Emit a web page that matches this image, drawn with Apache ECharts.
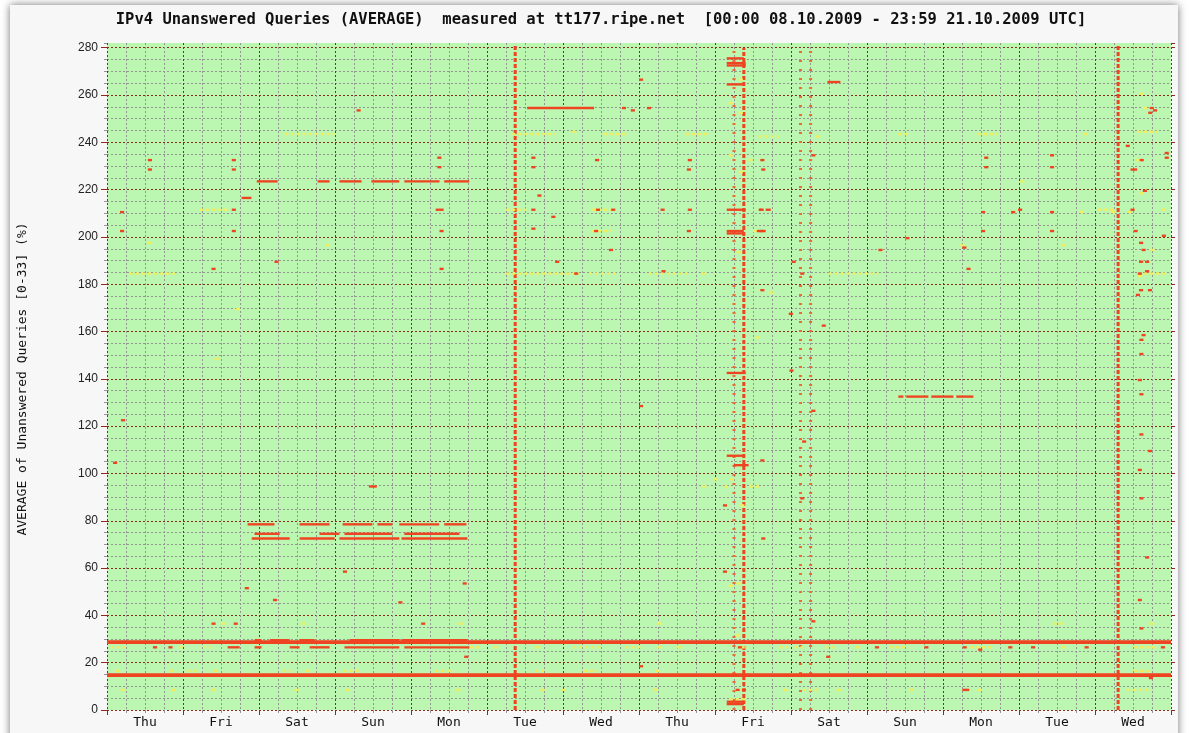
<!DOCTYPE html>
<html>
<head>
<meta charset="utf-8">
<title>IPv4 Unanswered Queries (AVERAGE) - tt177.ripe.net</title>
<script src="https://cdn.jsdelivr.net/npm/echarts@6/dist/echarts.min.js"></script>
<style>
  html, body { margin: 0; padding: 0; background: #ffffff; overflow: hidden; }
  #frame { position: absolute; left: 10px; top: 5px; width: 1168px; height: 760px;
           background: #f7f7f7; box-shadow: 0 0 8px rgba(0, 0, 0, 0.55); }
  #main { position: absolute; left: 0; top: 0; width: 1189px; height: 733px; }
</style>
</head>
<body>
<div id="frame"></div>
<div id="main"></div>
<script>
'use strict';

// time axis in hours from 00:00 08.10.2009, rows 0..280
const days = ['Thu', 'Fri', 'Sat', 'Sun', 'Mon', 'Tue', 'Wed', 'Thu', 'Fri', 'Sat', 'Sun', 'Mon', 'Tue', 'Wed'];
const hourMax = 336;
const rowMax = 282;
const rowTicks = [0, 20, 40, 60, 80, 100, 120, 140, 160, 180, 200, 220, 240, 260, 280];

// rows that never answer: [fromHour, toHour, row]
const deadRows = [[0, 336, 13.9], [0, 336, 27.9]];

// vertical outages over (almost) all rows: [hour, fromRow, toRow]
const denseColumns = [[128.9, 0, 281], [201.1, 0, 280], [319.3, 0, 281]];
const sparseColumns = [[198.0, 0, 280], [222.2, 0, 280], [219.0, 0, 279]];

// red runs: [fromHour, toHour, row]
const redRuns = [
	[46.6, 48.8, 29], [51.4, 57.7, 29], [60.8, 65.6, 29], [76.6, 92.3, 29], [93, 113.8, 29],
	[38.1, 41.9, 26], [46.6, 48.8, 26], [57.7, 60.8, 26], [64, 70.3, 26], [75, 92.3, 26], [93.9, 114.4, 26],
	[44.4, 52.9, 78], [60.8, 70.3, 78], [74.4, 83.8, 78], [85.4, 90.1, 78], [92.3, 104.9, 78], [106.5, 113.5, 78],
	[46.6, 54.5, 74], [67.1, 73.4, 74], [75, 90.1, 74], [93.9, 111.3, 74],
	[45.7, 57.7, 72], [60.8, 71.9, 72], [73.4, 92.3, 72], [93, 113.8, 72],
	[47.3, 53.9, 223], [66.5, 70.3, 223], [73.4, 80.4, 223], [83.5, 92.3, 223], [93.9, 105, 223], [106.5, 114.4, 223],
	[132.7, 153.8, 254],
	[195.7, 201.1, 275], [195.7, 201.7, 273], [195.7, 201.7, 272], [195.7, 201.4, 264],
	[195.7, 201.7, 211], [205.8, 206.7, 211], [208, 209.6, 211],
	[195.7, 201.1, 202], [195.7, 201.1, 201], [205.2, 208, 202],
	[195.7, 201.7, 142], [195.7, 201.1, 107], [197.9, 202.6, 103], [195.7, 201.1, 3], [195.7, 201.1, 2],
	[227.5, 231.6, 265], [42.5, 45.6, 216],
	[249.9, 251.5, 132], [252.4, 259.4, 132], [260.3, 267.3, 132], [268.2, 273.6, 132]
];

// light (yellow) runs: [fromHour, toHour, row]
const yellowRuns = [
	[56.1, 71.9, 243], [128, 141.8, 243], [157, 163.9, 243], [182.8, 190, 243], [205.8, 212.1, 242],
	[249.9, 253.1, 243], [275.1, 281.4, 243], [325.6, 331.9, 244],
	[7.2, 21.4, 184], [126.1, 149.1, 184], [152.2, 161.7, 184], [171.1, 183.7, 184], [227.9, 243.6, 184], [325.6, 335, 184],
	[29.3, 38.8, 211], [126.1, 132.4, 211], [153.2, 159.5, 211], [313, 317.7, 211], [153.2, 159.5, 202],
	[1.2, 6, 26], [23, 24.3, 26], [30.3, 33.7, 26], [114.6, 118.2, 26], [147.2, 155.8, 26], [163.7, 169.1, 26],
	[212.4, 214.8, 26], [217.1, 219.7, 26], [226.9, 230.5, 26], [247.3, 252.1, 26], [272.6, 279.9, 26], [324.3, 331.5, 26],
	[20, 21.9, 16], [25.4, 29, 16], [55.5, 58, 16], [74.7, 79.7, 16], [103.7, 109.7, 16], [135.2, 138.7, 16],
	[150.6, 154.6, 16], [324.3, 329.2, 16], [188, 190, 94], [195, 197, 94], [203, 206, 94],
	[219.7, 224.4, 8], [322, 330, 8], [299, 302.6, 36], [196.7, 201.6, 4]
];

// single red cells: [hour, row]
const redDots = [
	[4.4, 122], [1.9, 104], [4.1, 210], [4.1, 202], [12.9, 232], [12.9, 228], [39.4, 232], [39.4, 228],
	[39.4, 211], [39.4, 202], [52.9, 189], [78.8, 253], [104.3, 233], [104.3, 229], [105, 211], [103.8, 211],
	[105, 202], [105, 186], [92, 45], [168, 18], [168, 128], [134, 233], [134, 229], [134, 211], [134, 203],
	[162.6, 254], [170.5, 254], [225.7, 162], [243.6, 194], [252.1, 199], [270.1, 195], [271.4, 186],
	[276, 210], [276, 202], [277, 233], [277, 229], [297.8, 234], [297.8, 229], [297.8, 210], [297.8, 202],
	[285.5, 210], [287.7, 211], [327.1, 219], [327.8, 189], [328.7, 177], [327.8, 185], [328.7, 109],
	[327.8, 64], [329.3, 254], [330.3, 253], [333.1, 200], [270.1, 8], [271, 8], [275.1, 25], [33, 186],
	[326, 156], [326, 150], [325.5, 139], [326, 133], [326, 116], [325.5, 101], [326, 89], [325.5, 46],
	[326, 34], [328.8, 252], [334, 233], [334, 235], [323.2, 228], [324, 228], [323.2, 211], [324.2, 202],
	[325.9, 197], [326.7, 194], [325.9, 189], [325.5, 184], [325.9, 177], [324.9, 175], [326.7, 158],
	[321.7, 238], [326.1, 232], [222.4, 234], [206.3, 232], [206.6, 228], [206.3, 177], [215.3, 167],
	[218.9, 184], [215.5, 143], [216.2, 189], [222.4, 126], [222.4, 37], [206.3, 105], [194.5, 86],
	[194.5, 58], [227.1, 22], [206.6, 72], [218.9, 89], [219.5, 113], [135.9, 217], [165.4, 253],
	[168, 266], [154.1, 232], [183.4, 232], [183.1, 228], [154.4, 211], [159.2, 211], [174.8, 211],
	[183.4, 211], [153.8, 202], [183.1, 202], [206.1, 211], [206.1, 202], [140.3, 208], [158.5, 194],
	[175.1, 185], [141.5, 189], [147.5, 184], [33, 36], [99.2, 36], [112.3, 53], [112.8, 22], [43.5, 51],
	[52.4, 46], [74.5, 58], [40, 36], [83.9, 94], [82.7, 94], [199.2, 26], [242.5, 26], [258.1, 26],
	[270.2, 26], [284.6, 26], [291.8, 26], [308.7, 26], [332.8, 26], [19.4, 26], [14.5, 26], [329, 13],
	[198.5, 8], [200.5, 8]
];

// single yellow cells: [hour, row]
const yellowDots = [
	[12.6, 197], [34, 148], [40.7, 169], [69, 196], [146.9, 244], [269.5, 196], [276.7, 243], [288.4, 223],
	[301.6, 196], [326.1, 260], [327.1, 254], [308.2, 243], [325, 232], [326.1, 218], [307.2, 210],
	[317, 210], [322.3, 210], [333, 211], [329.5, 194], [326.1, 189], [325.6, 183], [199.5, 266],
	[196.3, 256], [199.5, 252], [202.6, 232], [223.7, 242], [196.3, 234], [199.5, 227], [204, 202],
	[198.8, 193], [187.9, 184], [209, 176], [204.8, 157], [191.6, 97], [196.8, 97], [200, 86], [198.8, 53],
	[196.3, 52], [198.5, 31], [200.1, 26], [200.1, 8], [4.3, 8], [20.5, 8], [33.1, 8], [59.2, 8], [75.3, 8],
	[110.3, 8], [136.9, 8], [143.6, 8], [172.7, 8], [213.6, 8], [230.4, 8], [253.4, 8], [275, 8],
	[36, 36], [61.5, 36], [111, 36], [173.9, 36], [329.2, 36], [173.3, 16], [2.5, 16], [33.7, 16],
	[62.7, 16], [173.9, 26], [179.9, 26], [236.5, 26], [301.5, 26], [121.9, 26], [135.1, 26]
];

const RED = '#ee4422';
const YELLOW = '#f3ee5c';
const cellHours = 1.3;
const MAJOR = '#8b2a1a';
const MINOR = '#949494';

var myChart = echarts.init(document.getElementById('main'));

function rectBetween(api, h1, h2, r1, r2, fill) {
	var a = api.coord([h1, r2]);
	var b = api.coord([h2, r1]);
	return {
		type: 'rect',
		shape: { x: a[0], y: a[1], width: Math.max(b[0] - a[0], 2), height: b[1] - a[1] },
		style: { fill: fill }
	};
}

function columnSeries(data, color, dash) {
	return {
		type: 'custom',
		silent: true,
		clip: true,
		data: data,
		encode: { x: 0, y: [1, 2] },
		renderItem: function(params, api) {
			var a = api.coord([api.value(0), api.value(1)]);
			var b = api.coord([api.value(0), api.value(2)]);
			return {
				type: 'line',
				shape: { x1: a[0], y1: a[1], x2: b[0], y2: b[1] },
				style: { stroke: color, lineWidth: 3, lineDash: dash }
			};
		}
	};
}

var option = {
	animation: false,
	graphic: [
		{
			type: 'text', x: 601, y: 20, silent: true,
			style: {
				text: 'IPv4 Unanswered Queries (AVERAGE)  measured at tt177.ripe.net  [00:00 08.10.2009 - 23:59 21.10.2009 UTC]',
				font: 'bold 15.5px "DejaVu Sans Mono", monospace', fill: '#111',
				textAlign: 'center', textVerticalAlign: 'middle'
			}
		},
		{
			type: 'text', x: 23, y: 379, rotation: Math.PI / 2, silent: true,
			style: {
				text: 'AVERAGE of Unanswered Queries [0-33] (%)',
				font: '13px "DejaVu Sans Mono", monospace', fill: '#111',
				textAlign: 'center', textVerticalAlign: 'middle'
			}
		}
	],
	grid: {
		// 76 px per day keeps the dotted day lines on whole pixels
		left: 107, width: 1064, top: 43, bottom: 23,
		show: true, backgroundColor: '#bbf7b0', borderWidth: 0
	},
	xAxis: [
		{
			// hours: day lines every 24 h, minor lines every 6 h
			type: 'value', min: 0, max: hourMax, interval: 24, position: 'bottom',
			axisLine: { show: false },
			axisLabel: { show: false },
			axisTick: { show: true, length: 5, lineStyle: { color: MAJOR } },
			splitLine: { show: true, lineStyle: { color: MAJOR, width: 1, type: [2, 2] } },
			minorTick: { show: true, splitNumber: 4, length: 3, lineStyle: { color: MINOR } },
			minorSplitLine: { show: true, lineStyle: { color: MINOR, width: 1, type: [2, 2] } }
		},
		{
			// day names only
			type: 'category', data: days, position: 'bottom', boundaryGap: true,
			axisLine: { show: false },
			axisTick: { show: false },
			axisLabel: { interval: 0, margin: 6, fontFamily: '"DejaVu Sans Mono", monospace', fontSize: 13, color: '#111' },
			splitLine: { show: false }
		}
	],
	yAxis: [
		{
			type: 'value', min: 0, max: rowMax, interval: 5, position: 'left',
			axisLine: { show: false },
			axisLabel: { show: false },
			axisTick: { show: true, length: 3, lineStyle: { color: MINOR } },
			splitLine: { show: true, showMaxLine: false, lineStyle: { color: MINOR, width: 1, type: [2, 2] } }
		},
		{
			type: 'value', min: 0, max: rowMax, interval: 20, position: 'left',
			axisLine: { show: false },
			axisLabel: {
				margin: 9, showMaxLabel: false,
				fontFamily: '"Liberation Sans", Arial, sans-serif', fontSize: 12, color: '#222',
				formatter: function(v) { return rowTicks.indexOf(v) >= 0 ? String(v) : ''; }
			},
			axisTick: { show: true, length: 6, lineStyle: { color: MAJOR } },
			splitLine: { show: true, showMaxLine: false, lineStyle: { color: MAJOR, width: 1, type: [2, 2] } }
		},
		{
			type: 'value', min: 0, max: rowMax, interval: 20, position: 'right',
			axisLine: { show: false },
			axisLabel: { show: false },
			axisTick: { show: true, length: 4, lineStyle: { color: MAJOR } },
			splitLine: { show: false }
		}
	],
	series: [
		columnSeries(sparseColumns, '#ef6a3a', [2, 7]),
		columnSeries(denseColumns, RED, [4, 2]),
		{
			// pale streaks, drawn speckled
			type: 'custom', silent: true, clip: true, z: 3,
			data: yellowRuns,
			encode: { x: [0, 1], y: 2 },
			renderItem: function(params, api) {
				var a = api.coord([api.value(0), api.value(2) + 0.5]);
				var b = api.coord([api.value(1), api.value(2) + 0.5]);
				return {
					type: 'line',
					shape: { x1: a[0], y1: a[1], x2: b[0], y2: b[1] },
					style: { stroke: YELLOW, lineWidth: api.size([0, 1])[1], lineDash: [3, 3] }
				};
			}
		},
		{
			type: 'custom', silent: true, clip: true, z: 3,
			data: yellowDots,
			encode: { x: 0, y: 1 },
			renderItem: function(params, api) {
				var h = api.value(0), r = api.value(1);
				return rectBetween(api, h, h + cellHours, r, r + 1, YELLOW);
			}
		},
		{
			type: 'custom', silent: true, clip: true, z: 4,
			data: redRuns,
			encode: { x: [0, 1], y: 2 },
			renderItem: function(params, api) {
				var r = api.value(2);
				return rectBetween(api, api.value(0), api.value(1), r, r + 1, RED);
			}
		},
		{
			type: 'custom', silent: true, clip: true, z: 4,
			data: deadRows,
			encode: { x: [0, 1], y: 2 },
			renderItem: function(params, api) {
				var r = api.value(2);
				return rectBetween(api, api.value(0), api.value(1), r, r + 1.6, RED);
			}
		},
		{
			type: 'custom', silent: true, clip: true, z: 4,
			data: redDots,
			encode: { x: 0, y: 1 },
			renderItem: function(params, api) {
				var h = api.value(0), r = api.value(1);
				return rectBetween(api, h, h + cellHours, r, r + 1, RED);
			}
		}
	]
};

myChart.setOption(option);
</script>
</body>
</html>
